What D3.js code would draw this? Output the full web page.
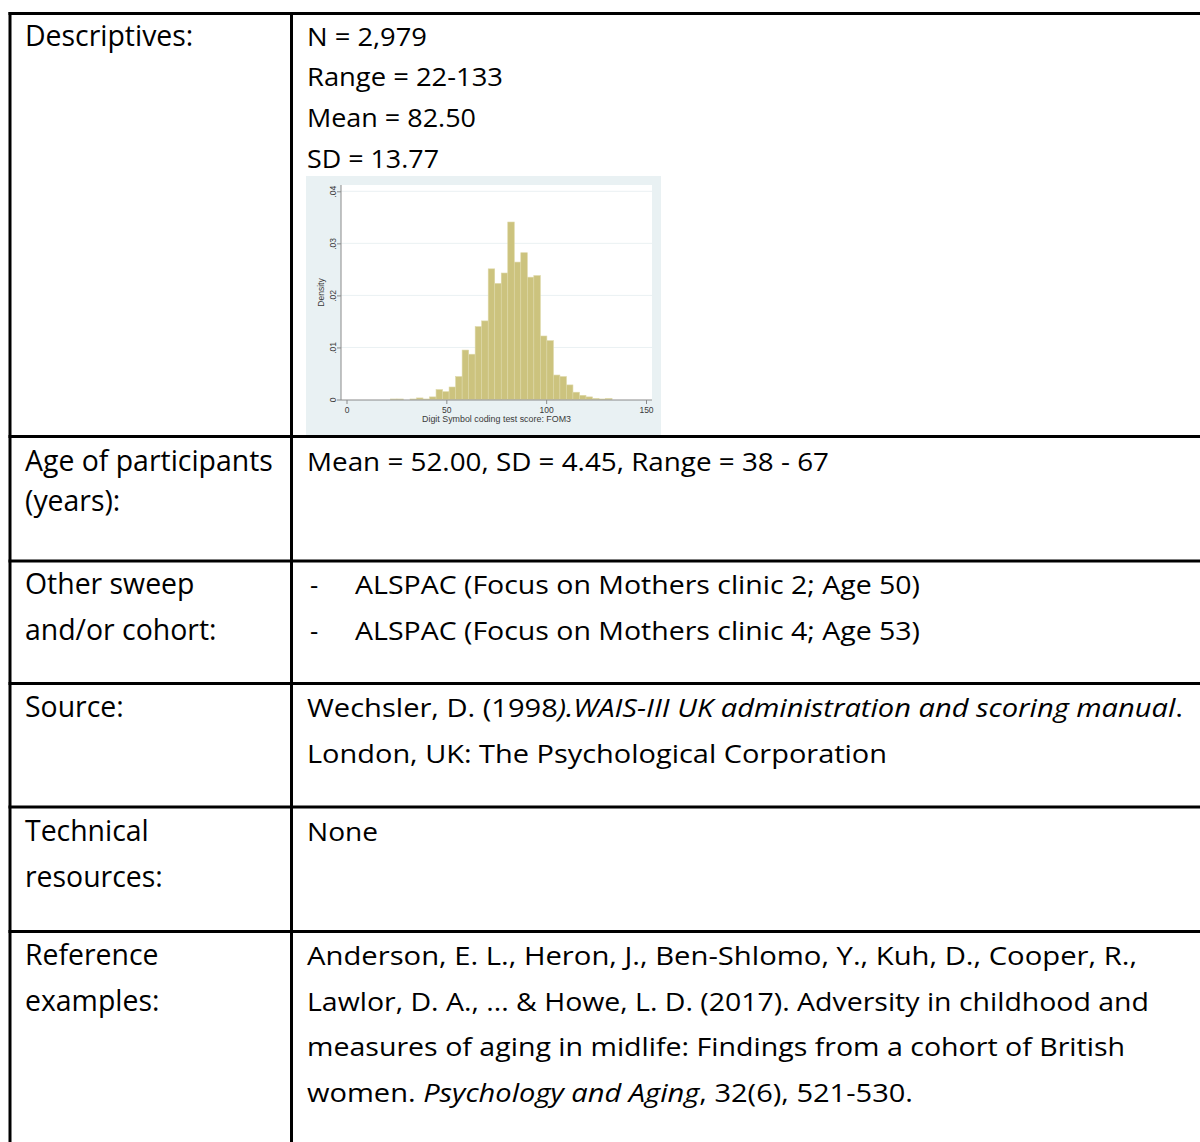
<!DOCTYPE html>
<html>
<head>
<meta charset="utf-8">
<script src="https://cdn.jsdelivr.net/npm/d3@7"></script>
<style>
  html, body { margin: 0; padding: 0; background: #fff; }
  svg { display: block; }
</style>
</head>
<body>
<div id="chart"></div>
<script>
// ---------- DATA ----------
const rowLabels = [
  ["Descriptives:"],
  ["Age of participants", "(years):"],
  ["Other sweep", "and/or cohort:"],
  ["Source:"],
  ["Technical", "resources:"],
  ["Reference", "examples:"]
];
const descriptives = ["N = 2,979", "Range = 22-133", "Mean = 82.50", "SD = 13.77"];
const ageText = ["Mean = 52.00, SD = 4.45, Range = 38 - 67"];
const otherSweeps = ["ALSPAC (Focus on Mothers clinic 2; Age 50)", "ALSPAC (Focus on Mothers clinic 4; Age 53)"];
const sourceLines = [
  [["Wechsler, D. (1998", false], [").WAIS-III UK administration and scoring manual", true], [".", false]],
  [["London, UK: The Psychological Corporation", false]]
];
const technicalText = ["None"];
const referenceLines = [
  [["Anderson, E. L., Heron, J., Ben-Shlomo, Y., Kuh, D., Cooper, R.,", false]],
  [["Lawlor, D. A., ... & Howe, L. D. (2017). Adversity in childhood and", false]],
  [["measures of aging in midlife: Findings from a cohort of British", false]],
  [["women. ", false], ["Psychology and Aging", true], [", 32(6), 521-530.", false]]
];

// Histogram (Digit Symbol coding test score: FOM3), 34 bins from 22 to 133
const histMin = 22, histMax = 133, histBins = 34;
const densities = [0.0001, 0.0001, 0, 0.0001, 0.0003, 0.0001, 0.0005, 0.0019, 0.0015, 0.0024,
  0.0044, 0.0095, 0.0087, 0.0140, 0.0151, 0.0251, 0.0223, 0.0243, 0.0341, 0.0264,
  0.0282, 0.0235, 0.0238, 0.0122, 0.0113, 0.0047, 0.0044, 0.0028, 0.0014, 0.0008,
  0.0005, 0.0002, 0.0001, 0.0002];
const xTicks = [0, 50, 100, 150];
const yTicks = [0, 0.01, 0.02, 0.03, 0.04];
const yTickLabels = ["0", ".01", ".02", ".03", ".04"];
const xTitle = "Digit Symbol coding test score: FOM3";
const yTitle = "Density";

// ---------- LAYOUT ----------
const W = 1200, H = 1142;
const svg = d3.select("#chart").append("svg").attr("width", W).attr("height", H);
svg.append("rect").attr("width", W).attr("height", H).attr("fill", "#fff");

const leftFont = "'Open Sans', 'Noto Sans', sans-serif";
const rightFont = "'Open Sans', 'Noto Sans', sans-serif";
const leftX = 25, rightX = 307;

// left labels baselines per row
const leftBaselines = [[46], [471, 511], [594, 640], [717], [841, 887], [965, 1011]];

const gLeft = svg.append("g");
rowLabels.forEach((lines, r) => {
  lines.forEach((t, i) => {
    gLeft.append("text").attr("class", "lt")
      .attr("x", leftX).attr("y", leftBaselines[r][i])
      .attr("font-family", leftFont).attr("font-size", 25).attr("fill", "#000")
      .text(t);
  });
});
// fit left column font size so "Age of participants" spans ~248px
(function () {
  const probe = gLeft.selectAll("text.lt").filter(function () { return this.textContent === "Age of participants"; }).node();
  const w = probe.getComputedTextLength();
  const fs = 25 * 248 / w;
  gLeft.selectAll("text.lt").attr("font-size", fs);
})();

// right column: each line fitted to the width it occupies in the original
const gRight = svg.append("g");
function rightLine(x, y, segs, right) {
  const t = gRight.append("text").attr("class", "rt")
    .attr("x", x).attr("y", y)
    .attr("font-family", rightFont).attr("font-size", 25.5).attr("fill", "#000");
  segs.forEach(([s, it]) => {
    t.append("tspan").attr("font-style", it ? "italic" : "normal").text(s);
  });
  if (right) t.attr("textLength", right - x).attr("lengthAdjust", "spacingAndGlyphs");
  return t;
}
const descEnds = [427, 503, 476, 439];
descriptives.forEach((s, i) => rightLine(rightX, 45.5 + i * 40.7, [[s, false]], descEnds[i]));
ageText.forEach(s => rightLine(rightX, 471, [[s, false]], 829));
otherSweeps.forEach((s, i) => {
  rightLine(310, 594 + i * 46, [["-", false]]);
  rightLine(355, 594 + i * 46, [[s, false]], 920);
});
rightLine(rightX, 717, sourceLines[0], 1183);
rightLine(rightX, 763, sourceLines[1], 887);
technicalText.forEach(s => rightLine(rightX, 841, [[s, false]], 378));
const refEnds = [1137, 1149, 1125, 913];
referenceLines.forEach((segs, i) => rightLine(rightX, 965 + i * 45.7, segs, refEnds[i]));

// ---------- HISTOGRAM ----------
const img = { x: 306, y: 176, w: 355, h: 259 };
const plot = { l: 341, r: 652, t: 185, b: 400 };
const gH = svg.append("g");
gH.append("rect").attr("x", img.x).attr("y", img.y).attr("width", img.w).attr("height", img.h).attr("fill", "#e9f1f3");
gH.append("rect").attr("x", plot.l).attr("y", plot.t).attr("width", plot.r - plot.l).attr("height", plot.b - plot.t).attr("fill", "#fff");

const x = d3.scaleLinear().domain([0, 150]).range([346.5, 646]);
const y = d3.scaleLinear().domain([0, 0.04]).range([399.5, 191.3]);

// grid
gH.selectAll("line.grid").data(yTicks.slice(1)).join("line")
  .attr("x1", plot.l).attr("x2", plot.r)
  .attr("y1", d => y(d)).attr("y2", d => y(d))
  .attr("stroke", "#eaf1f3").attr("stroke-width", 1);

// bars
const bw = (histMax - histMin) / histBins;
gH.selectAll("rect.bar").data(densities).join("rect")
  .attr("x", (d, i) => x(histMin + i * bw))
  .attr("width", (d, i) => x(histMin + (i + 1) * bw) - x(histMin + i * bw))
  .attr("y", d => y(d))
  .attr("height", d => y(0) - y(d))
  .attr("fill", "#ccc37e")
  .attr("stroke", "#ddd7a6").attr("stroke-width", 0.6);

const smallFont = "'Liberation Sans', Arial, sans-serif";
// y axis
const yAxis = d3.axisLeft(y).tickValues(yTicks).tickSize(4).tickFormat((d, i) => yTickLabels[i]);
const gy = gH.append("g").attr("transform", `translate(${plot.l},0)`).call(yAxis);
gy.select(".domain").attr("d", `M0,${plot.t}V${plot.b}`).attr("stroke", "#8a8a8a");
gy.selectAll(".tick line").attr("stroke", "#8a8a8a");
gy.selectAll(".tick text")
  .attr("font-family", smallFont).attr("font-size", 8.5).attr("fill", "#3a3a3a")
  .attr("x", null).attr("dy", null)
  .attr("transform", "translate(-5,0) rotate(-90)")
  .attr("text-anchor", "middle").attr("y", 0);

// x axis
const xAxis = d3.axisBottom(x).tickValues(xTicks).tickSize(4).tickFormat(d3.format("d"));
const gx = gH.append("g").attr("transform", `translate(0,${plot.b})`).call(xAxis);
gx.select(".domain").attr("d", `M${plot.l},0H${plot.r}`).attr("stroke", "#8a8a8a");
gx.selectAll(".tick line").attr("stroke", "#8a8a8a");
gx.selectAll(".tick text")
  .attr("font-family", smallFont).attr("font-size", 8.5).attr("fill", "#3a3a3a")
  .attr("y", 12.5).attr("dy", null);

gH.append("text").attr("x", 496.5).attr("y", 421.5).attr("text-anchor", "middle")
  .attr("font-family", smallFont).attr("font-size", 8.9).attr("fill", "#3a3a3a")
  .text(xTitle);
gH.append("text").attr("transform", `translate(323.5,${(plot.t + plot.b) / 2}) rotate(-90)`)
  .attr("text-anchor", "middle")
  .attr("font-family", smallFont).attr("font-size", 8.5).attr("fill", "#3a3a3a")
  .text(yTitle);

// ---------- TABLE BORDERS ----------
const gB = svg.append("g").attr("stroke", "#000").attr("stroke-width", 3);
const rowLines = [13.5, 436.5, 561, 683.5, 807, 931.5];
gB.selectAll("line.row").data(rowLines).join("line")
  .attr("x1", 8.5).attr("x2", W).attr("y1", d => d).attr("y2", d => d);
gB.append("line").attr("x1", 10).attr("x2", 10).attr("y1", 12).attr("y2", H);
gB.append("line").attr("x1", 291.5).attr("x2", 291.5).attr("y1", 12).attr("y2", H);
</script>
</body>
</html>
